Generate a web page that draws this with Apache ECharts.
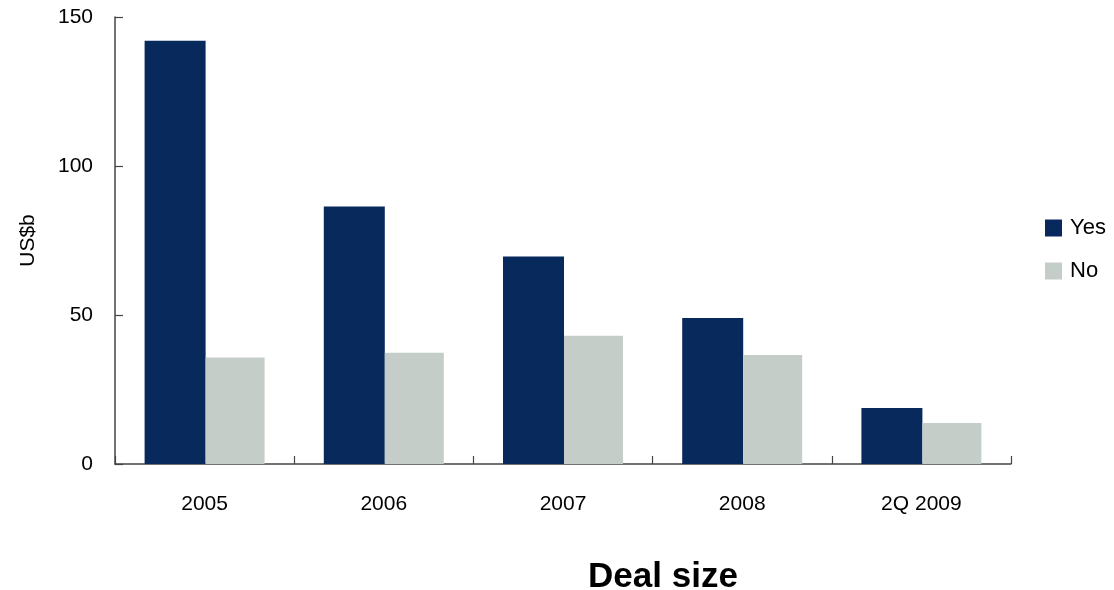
<!DOCTYPE html>
<html>
<head>
<meta charset="utf-8">
<script src="https://cdn.jsdelivr.net/npm/echarts@6/dist/echarts.min.js"></script>
<style>
  html, body { margin: 0; padding: 0; background: #ffffff; }
  #chart { width: 1114px; height: 590px; }
</style>
</head>
<body>
<div id="chart"></div>
<script>
// Deal value by year, split by Yes / No (US$ billions)
const categories = ['2005', '2006', '2007', '2008', '2Q 2009'];
const yesValues = [142.0, 86.4, 69.6, 49.0, 18.8];
const noValues = [35.7, 37.3, 43.0, 36.6, 13.8];
const yTicks = [0, 50, 100, 150];

const FONT = '"Liberation Sans", Arial, sans-serif';
const axisColor = '#444444';

const chart = echarts.init(document.getElementById('chart'));
chart.setOption({
  animation: false,
  backgroundColor: '#ffffff',
  title: {
    text: 'Deal size',
    left: 658,
    top: 555,
    textAlign: 'center',
    textStyle: { fontFamily: FONT, fontSize: 35, fontWeight: 'bold', color: '#000000' }
  },
  legend: {
    orient: 'vertical',
    left: 1045,
    top: 217,
    padding: 0,
    itemWidth: 17,
    itemHeight: 17,
    itemGap: 21,
    icon: 'rect',
    textStyle: { fontFamily: FONT, fontSize: 22, lineHeight: 17, color: '#000000', padding: [0, 0, 0, 3] },
    data: ['Yes', 'No']
  },
  grid: { left: 115, right: 103, top: 17, bottom: 126, containLabel: false },
  xAxis: {
    type: 'category',
    data: categories,
    axisLine: { lineStyle: { color: axisColor, width: 1.5 } },
    axisTick: { show: true, inside: true, length: 8, lineStyle: { color: axisColor, width: 1.2 } },
    axisLabel: { fontFamily: FONT, fontSize: 21, color: '#000000', margin: 30 }
  },
  yAxis: {
    type: 'value',
    min: yTicks[0],
    max: yTicks[yTicks.length - 1],
    interval: 50,
    name: 'US$b',
    nameLocation: 'middle',
    nameGap: 76,
    nameRotate: 90,
    nameTextStyle: { fontFamily: FONT, fontSize: 21, color: '#000000' },
    splitLine: { show: false },
    axisLine: { show: true, lineStyle: { color: axisColor, width: 1.5 } },
    axisTick: { show: true, inside: true, length: 8, lineStyle: { color: axisColor, width: 1.2 } },
    axisLabel: { fontFamily: FONT, fontSize: 21, color: '#000000', margin: 22 }
  },
  series: [
    {
      name: 'Yes',
      type: 'bar',
      data: yesValues,
      barWidth: 61,
      barGap: '0%',
      itemStyle: { color: '#08295c' }
    },
    {
      name: 'No',
      type: 'bar',
      data: noValues,
      barWidth: 59,
      barGap: '0%',
      itemStyle: { color: '#c5cdc9' }
    }
  ]
});
</script>
</body>
</html>
